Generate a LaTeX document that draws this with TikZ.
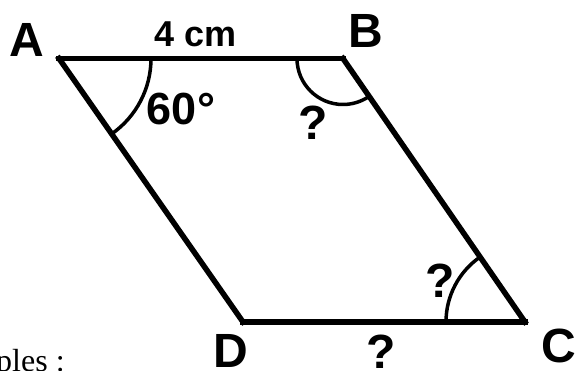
\documentclass[tikz,border=0pt]{standalone}
\usepackage{fontspec}
\setmainfont{Liberation Sans}
\newfontfamily\serifface{Liberation Serif}
\usetikzlibrary{angles}
\begin{document}
\begin{tikzpicture}[x=1pt,y=1pt,
  side/.style={line width=5.5pt,line cap=rect},
  anglearc/.style={draw,line width=3.5pt},
  lbl/.style={inner sep=0pt,anchor=base,text depth=0pt,font=\bfseries\fontsize{48}{50}\selectfont}]
\useasboundingbox (0,0) rectangle (579,371);
\coordinate (A) at (59,312.5);
\coordinate (B) at (343,312.5);
\coordinate (C) at (525,49);
\coordinate (D) at (243,49);
\draw[side] (A) -- (B);
\draw[side] (B) -- (C);
\draw[side] (C) -- (D);
\draw[side] (D) -- (A);
\pic[anglearc,angle radius=92pt] {angle = D--A--B};
\pic[anglearc,angle radius=46pt] {angle = A--B--C};
\pic[anglearc,angle radius=79pt] {angle = B--C--D};
\node[lbl] (lA) at (27,314) {A};
\node[lbl] (lB) at (366,323) {B};
\node[lbl] (lC) at (559,8) {C};
\node[lbl] (lD) at (231,3) {D};
\node[lbl,font=\bfseries\fontsize{36}{40}\selectfont] (lAB) at (196,324) {4 cm};
\node[lbl,font=\bfseries\fontsize{45}{48}\selectfont] (lang) at (181,246) {60°};
\node[lbl] (qB) at (313.5,231) {?};
\node[lbl] (qC) at (440,73) {?};
\node[lbl] (qDC) at (381.5,2) {?};
\node[inner sep=0pt,anchor=base west,font=\serifface\fontsize{32}{36}\selectfont] (ples) at (-4,-1) {ples :};
\end{tikzpicture}
\end{document}
